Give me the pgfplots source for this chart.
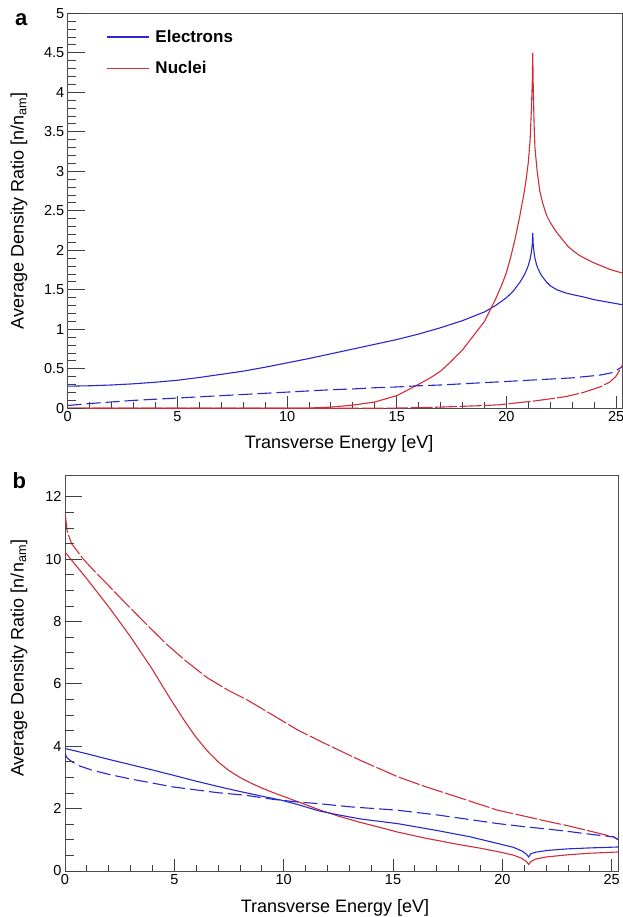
\documentclass[border=0pt]{standalone}
\usepackage{fontspec}
\setmainfont{Liberation Sans}
\usepackage{pgfplots}
\pgfplotsset{compat=1.18}
\definecolor{eblue}{RGB}{40,40,205}
\definecolor{nred}{RGB}{208,45,55}
\pgfplotsset{
  rootstyle/.style={
    scale only axis,
    axis line style={draw=black!70, line width=0.9pt},
    tick pos=left, tick align=inside,
    tick style={black!75, line width=0.9pt},
    major tick length=12pt, minor tick length=6pt,
    /pgf/number format/assume math mode=true,
    tick label style={font=\fontsize{14.5}{16}\selectfont},
    label style={font=\fontsize{18}{20}\selectfont},
    xmin=0, xmax=25.3,
    xtick={0,5,...,25}, minor x tick num=4,
    xlabel={Transverse Energy [eV]},
    ylabel={Average Density Ratio [n/n\textsubscript{am}]},
    every axis plot/.append style={line width=1.1pt},
  },
  yticker/.style={
    scale only axis,
    axis line style={draw=none},
    tick pos=left, tick align=inside,
    tick style={black!75, line width=0.9pt},
    major tick length=17pt, minor tick length=8.5pt,
    xmin=0, xmax=25.3, xtick=\empty, yticklabels={},
  },
}
\begin{document}
\begin{tikzpicture}
\path[use as bounding box] (0pt,0pt) rectangle (622pt,917pt);
% ---------------- panel a ----------------
\begin{axis}[rootstyle,
  at={(67.7pt,508.7pt)}, anchor=south west,
  width=555pt, height=395pt,
  ymin=0, ymax=5, ytick={0,0.5,...,5}, minor y tick num=4,
  xlabel style={at={(axis description cs:0.489,-0.1013)}, anchor=base},
  ylabel style={at={(axis description cs:-0.0793,0.5)}, anchor=base},
  legend style={at={(axis description cs:0.069,0.9628)}, anchor=north west,
    draw=none, fill=none, inner sep=0pt, row sep=13.6pt, column sep=4pt,
    nodes={inner sep=2pt},
    font=\bfseries\fontsize{17}{19}\selectfont},
  legend cell align=left,
  legend image code/.code={\draw[#1] (0pt,0pt) -- (42pt,0pt);},
]
\addlegendimage{draw=eblue, line width=1.3pt}
\addlegendentry{Electrons}
\addlegendimage{draw=nred, line width=1.1pt}
\addlegendentry{Nuclei}
\addplot[eblue, forget plot] coordinates {
(0,0.28) (1,0.285) (2,0.295) (3,0.31) (4,0.33) (5,0.355) (6,0.39) (7,0.43)
(8,0.47) (9,0.52) (10,0.575) (11,0.63) (12,0.69) (13,0.75) (14,0.81) (15,0.87)
(16,0.94) (17,1.02) (18,1.11) (19,1.22) (19.5,1.3) (19.8,1.36) (20,1.40)
(20.3,1.48) (20.6,1.59) (20.8,1.68) (20.9,1.74) (21.0,1.81) (21.08,1.89)
(21.14,1.98) (21.18,2.08) (21.2,2.22) (21.22,2.08) (21.26,1.97) (21.3,1.9)
(21.37,1.82) (21.45,1.76) (21.6,1.68) (21.82,1.6) (22,1.55) (22.3,1.5)
(22.7,1.46) (23,1.44) (23.5,1.41) (24,1.375) (24.5,1.35) (25,1.325) (25.3,1.31)
};
\addplot[nred, forget plot] coordinates {
(0,0.0) (5,0.0) (10,0.0) (11,0.003) (12,0.015) (13,0.04) (14,0.08) (15,0.16)
(15.7,0.26) (16.5,0.38) (17,0.47) (17.5,0.6) (18,0.74) (18.5,0.92) (19,1.1)
(19.5,1.38) (19.8,1.57) (20,1.72) (20.2,1.92) (20.4,2.15) (20.6,2.42)
(20.8,2.72) (20.9,2.9) (21.0,3.12) (21.08,3.4) (21.14,3.8) (21.18,4.15)
(21.2,4.5) (21.22,4.1) (21.26,3.6) (21.3,3.3) (21.4,3.0) (21.52,2.75)
(21.65,2.6) (21.82,2.45) (22.0,2.35) (22.28,2.23) (22.6,2.12) (22.8,2.05)
(23.1,1.98) (23.36,1.93) (23.7,1.88) (24,1.84) (24.7,1.76) (25.3,1.71)
};
\addplot[eblue, dash pattern=on 14pt off 5pt, forget plot] coordinates {
(0,0.035) (1,0.06) (2,0.08) (3,0.1) (4,0.115) (5,0.13) (6,0.145) (7,0.16)
(8,0.175) (9,0.19) (10,0.205) (11,0.22) (12,0.235) (13,0.245) (14,0.26)
(15,0.27) (16,0.285) (17,0.295) (18,0.31) (19,0.325) (19.7,0.335) (21,0.355)
(22,0.37) (23,0.385) (24.26,0.42) (24.8,0.45) (25.1,0.495) (25.3,0.53)
};
\addplot[nred, dash pattern=on 22pt off 2.5pt, forget plot] coordinates {
(0,0) (14,0) (15,0.003) (16,0.008) (17,0.015) (18,0.025) (19,0.035)
(19.7,0.045) (20.5,0.07) (21.2,0.09) (22,0.12) (22.74,0.15) (23.5,0.2)
(24.26,0.27) (24.7,0.33) (24.98,0.40) (25.2,0.5) (25.3,0.56)
};
\end{axis}
\begin{axis}[yticker,
  at={(67.7pt,508.7pt)}, anchor=south west,
  width=555pt, height=395pt,
  ymin=0, ymax=5, ytick={0,0.5,...,5}, minor y tick num=4,
]
\end{axis}
\node[anchor=base west, inner sep=0pt, font=\bfseries\fontsize{22}{26}\selectfont] at (15pt,891pt) {a};
% ---------------- panel b ----------------
\begin{axis}[rootstyle,
  at={(65pt,46pt)}, anchor=south west,
  width=553.3pt, height=396pt,
  ymin=0, ymax=12.7, ytick={0,2,...,12}, minor y tick num=3,
  xlabel style={at={(axis description cs:0.488,-0.106)}, anchor=base},
  ylabel style={at={(axis description cs:-0.075,0.537)}, anchor=base},
]
\addplot[nred, dash pattern=on 22pt off 2.5pt] coordinates {
(0,11.55) (0.05,11.2) (0.1,10.9) (0.3,10.5) (0.84,10.0) (1.5,9.5) (2,9.15)
(2.67,8.66) (3.5,8.07) (4,7.72) (4.65,7.27) (5.5,6.75) (6.5,6.2) (7.5,5.78)
(8.3,5.5) (9.5,5.0) (10.67,4.51) (12,4.05) (13.5,3.55) (15.22,3.02)
(16.5,2.7) (18,2.36) (19.78,1.95) (21,1.76) (22,1.6) (23,1.45) (24,1.28)
(25.1,1.09) (25.3,1.0)
};
\addplot[nred] coordinates {
(0,10.23) (1,9.37) (2,8.47) (3,7.51) (4,6.46) (4.8,5.54) (5.5,4.78) (6,4.28)
(6.5,3.86) (7,3.5) (7.5,3.22) (8,3.0) (8.5,2.82) (9,2.66) (9.5,2.52)
(10,2.39) (10.5,2.26) (11,2.13) (11.6,1.97) (12.5,1.76) (13.5,1.56)
(14.5,1.38) (15.2,1.25) (16.5,1.05) (18,0.85) (19,0.73) (19.8,0.62)
(20.5,0.51) (20.9,0.4) (21.1,0.3) (21.2,0.21) (21.3,0.3) (21.5,0.38)
(22,0.45) (23,0.52) (24,0.57) (25.3,0.61)
};
\addplot[eblue] coordinates {
(0,3.93) (1,3.76) (2,3.58) (3,3.41) (4,3.24) (4.9,3.08) (6,2.88) (7,2.71)
(8,2.55) (9,2.4) (9.9,2.27) (10.7,2.12) (11.6,1.93) (12.5,1.8) (13.5,1.67)
(15.2,1.52) (17,1.3) (18.5,1.1) (19.8,0.88) (20.5,0.76) (20.9,0.64)
(21.1,0.54) (21.2,0.45) (21.3,0.55) (21.5,0.6) (22.06,0.66) (23,0.71)
(24,0.74) (25.3,0.77)
};
\addplot[eblue, dash pattern=on 14pt off 5pt] coordinates {
(0,3.77) (0.1,3.62) (0.33,3.5) (0.7,3.36) (1.25,3.23) (2,3.1) (3,2.95)
(4,2.82) (4.9,2.7) (6,2.6) (7,2.51) (8.24,2.43) (9.5,2.3) (10.67,2.21)
(11.6,2.16) (13,2.06) (15.2,1.95) (17,1.8) (18.5,1.65) (19.8,1.52) (21,1.42)
(22,1.35) (23,1.27) (24,1.18) (25.1,1.09) (25.3,1.0)
};
\end{axis}
\begin{axis}[yticker,
  at={(65pt,46pt)}, anchor=south west,
  width=553.3pt, height=396pt,
  ymin=0, ymax=12.7, ytick={0,2,...,12}, minor y tick num=3,
]
\end{axis}
\node[anchor=base west, inner sep=0pt, font=\bfseries\fontsize{22}{26}\selectfont] at (12.5pt,428.7pt) {b};
\end{tikzpicture}
\end{document}
